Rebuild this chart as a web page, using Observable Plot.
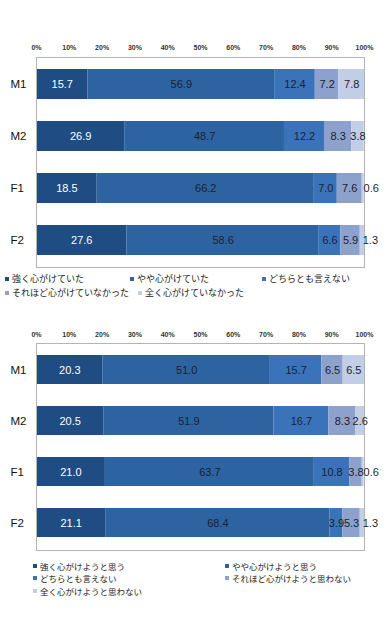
<!DOCTYPE html>
<html><head><meta charset="utf-8">
<script src="https://cdn.jsdelivr.net/npm/d3@7"></script>
<script src="https://cdn.jsdelivr.net/npm/@observablehq/plot@0.6"></script>
<style>
body{margin:0;background:#fff;width:387px;height:620px;overflow:hidden;font-family:"Liberation Sans",Arial,sans-serif;}
svg{display:block;}
.legend{position:relative;width:387px;font-family:"Noto Sans CJK JP",sans-serif;color:#222;}
.item{position:absolute;white-space:nowrap;display:flex;align-items:center;}
.sw{width:4px;height:4px;margin-right:3px;flex:none;}
</style></head><body><div id="c"></div>
<script>
const categories = ["M1", "M2", "F1", "F2"];
const tickValues = [0, 10, 20, 30, 40, 50, 60, 70, 80, 90, 100];

const pastSeries = ["強く心がけていた", "やや心がけていた", "どちらとも言えない", "それほど心がけていなかった", "全く心がけていなかった"];
const pastM1 = [15.7, 56.9, 12.4, 7.2, 7.8];
const pastM2 = [26.9, 48.7, 12.2, 8.3, 3.8];
const pastF1 = [18.5, 66.2, 7.0, 7.6, 0.6];
const pastF2 = [27.6, 58.6, 6.6, 5.9, 1.3];

const futureSeries = ["強く心がけようと思う", "やや心がけようと思う", "どちらとも言えない", "それほど心がけようと思わない", "全く心がけようと思わない"];
const futureM1 = [20.3, 51.0, 15.7, 6.5, 6.5];
const futureM2 = [20.5, 51.9, 16.7, 8.3, 2.6];
const futureF1 = [21.0, 63.7, 10.8, 3.8, 0.6];
const futureF2 = [21.1, 68.4, 3.9, 5.3, 1.3];

const colors = ["#1f4c82", "#2d63a1", "#3a73b9", "#8ca1cb", "#c2cde6"];
const fmt = d3.format(".1f");

function chart(seriesNames, rows, height, marginTop, tickPadding) {
  const data = categories.flatMap((cat, i) =>
    rows[i].map((value, j) => ({cat, series: seriesNames[j], idx: j, value})));
  const stack = (o) => Plot.stackX({x: "value", y: "cat", z: "series", ...o});
  return Plot.plot({
    width: 387, height, marginTop, marginBottom: 5, marginLeft: 36, marginRight: 23,
    style: {fontFamily: "'Liberation Sans', Arial, sans-serif", background: "#fff"},
    x: {domain: [0, 100]},
    y: {domain: categories, paddingInner: 0.43, paddingOuter: 0.23},
    color: {domain: seriesNames, range: colors},
    marks: [
      Plot.barX(data, stack({fill: "series"})),
      Plot.frame({stroke: "#b4b4b4"}),
      Plot.axisX({anchor: "top", ticks: tickValues, tickFormat: d => d + "%", tickSize: 0, tickPadding, fontSize: 7, fill: "#333", fontWeight: "bold", label: null}),
      Plot.axisY({tickSize: 0, tickPadding: 26, textAnchor: "start", fontSize: 11.5, fill: "#111", label: null}),
      Plot.text(data, stack({text: d => d.idx === 0 ? fmt(d.value) : "", fill: "#ffffff", fontSize: 11})),
      Plot.text(data, stack({text: d => d.idx > 0 && d.value >= 2 ? fmt(d.value) : "", fill: "#1b1f33", fontSize: 11})),
      Plot.text(data, stack({text: d => d.value < 2 ? fmt(d.value) : "", fill: "#1b1f33", fontSize: 11, dx: 8}))
    ]
  });
}

function legend(seriesNames, layout, height, fontSize, lineHeight) {
  const div = document.createElement("div");
  div.className = "legend";
  div.style.height = height + "px";
  div.style.fontSize = fontSize + "px";
  div.style.lineHeight = lineHeight + "px";
  seriesNames.forEach((name, i) => {
    const item = document.createElement("div");
    item.className = "item";
    item.style.left = layout[i][0] + "px";
    item.style.top = layout[i][1] + "px";
    const sw = document.createElement("span");
    sw.className = "sw";
    sw.style.background = colors[i];
    const t = document.createElement("span");
    t.textContent = name;
    item.append(sw, t);
    div.append(item);
  });
  return div;
}

const c = document.getElementById("c");
c.append(chart(pastSeries, [pastM1, pastM2, pastF1, pastF2], 272, 57, 8));
c.append(legend(pastSeries, [[5, 0], [130, 0], [262, 0], [5, 14], [138, 14]], 28, 9, 14));
c.append(chart(futureSeries, [futureM1, futureM2, futureF1, futureF2], 255, 43, 7));
c.append(legend(futureSeries, [[33, 5], [225, 5], [33, 17], [225, 17], [33, 30]], 65, 8.5, 12));
</script></body></html>
